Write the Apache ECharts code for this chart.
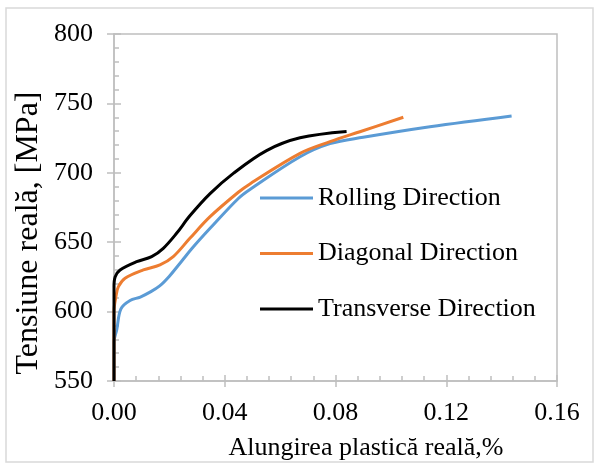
<!DOCTYPE html>
<html>
<head>
<meta charset="utf-8">
<script src="https://cdn.jsdelivr.net/npm/echarts@6/dist/echarts.min.js"></script>
<style>
html,body{margin:0;padding:0;background:#fff;}
#chart{width:596px;height:468px;}
</style>
</head>
<body>
<div id="chart"></div>
<script>
const seriesNames = ['Rolling Direction', 'Diagonal Direction', 'Transverse Direction'];
const xTicks = [0, 0.04, 0.08, 0.12, 0.16];
const yTicks = [550, 600, 650, 700, 750, 800];

const rolling = [[0,550],[0,578],[0.001,587],[0.0025,602],[0.0058,608],[0.0095,610.5],[0.013,614],[0.0165,618.5],[0.02,625.5],[0.0245,636.5],[0.0286,646.5],[0.0347,660],[0.0449,681.5],[0.0491,688],[0.0672,711.6],[0.078,721],[0.09,725.6],[0.1141,733.2],[0.1436,741]];
const diagonal = [[0,550],[0,600],[0.0008,612],[0.0016,618],[0.004,624],[0.0106,630],[0.0166,633.6],[0.0214,639.6],[0.0274,652.8],[0.0347,668.4],[0.0449,686],[0.0491,692],[0.0672,714],[0.078,722.4],[0.0888,729.6],[0.1045,740]];
const transverse = [[0,550],[0,618],[0.0004,625],[0.0022,630],[0.0082,636],[0.0136,639.6],[0.0178,645.6],[0.0226,656.4],[0.0274,669],[0.0347,685],[0.0431,699.6],[0.0551,716],[0.0672,725.2],[0.084,729.8]];

const colors = ['#5b9bd5', '#ed7d31', '#000000'];
const font = 'Liberation Serif';
const axisGrey = '#bfbfbf';

const chart = echarts.init(document.getElementById('chart'));
const mainX = {
  type: 'value', min: xTicks[0], max: xTicks[xTicks.length-1], interval: 0.04,
  axisLine: {show: true, lineStyle: {color: axisGrey, width: 1.5}},
  axisTick: {show: true, inside: true, length: 6, lineStyle: {color: axisGrey, width: 1.5}},
  minorTick: {show: true, splitNumber: 5, length: 5, lineStyle: {color: axisGrey, width: 1.5}},
  splitLine: {show: false},
  axisLabel: {fontFamily: font, fontSize: 26, color: '#000', margin: 19, formatter: v => v.toFixed(2)}
};
const outerX = {
  type: 'value', min: xTicks[0], max: xTicks[xTicks.length-1], interval: 0.04, position: 'bottom',
  axisLine: {show: false}, axisLabel: {show: false}, splitLine: {show: false},
  axisTick: {show: true, inside: false, length: 6, lineStyle: {color: axisGrey, width: 1.5}}
};
const mainY = {
  type: 'value', min: yTicks[0], max: yTicks[yTicks.length-1], interval: 50,
  axisLine: {show: true, lineStyle: {color: axisGrey, width: 1.5}},
  axisTick: {show: true, inside: true, length: 7, lineStyle: {color: axisGrey, width: 1.5}},
  minorTick: {show: true, splitNumber: 5, length: 5, lineStyle: {color: axisGrey, width: 1.5}},
  splitLine: {show: false},
  axisLabel: {fontFamily: font, fontSize: 26, color: '#000', margin: 21}
};
const outerY = {
  type: 'value', min: yTicks[0], max: yTicks[yTicks.length-1], interval: 50, position: 'left',
  axisLine: {show: false}, axisLabel: {show: false}, splitLine: {show: false},
  axisTick: {show: true, inside: false, length: 7, lineStyle: {color: axisGrey, width: 1.5}}
};

const datasets = [rolling, diagonal, transverse];
chart.setOption({
  animation: false,
  backgroundColor: '#fff',
  grid: {left: 114, right: 39, top: 34, bottom: 87, show: true, borderColor: axisGrey, borderWidth: 1.5, backgroundColor: 'transparent'},
  xAxis: [mainX, outerX],
  yAxis: [mainY, outerY],
  legend: {
    show: true, orient: 'vertical', left: 260, top: 185, padding: 0,
    itemWidth: 53, itemHeight: 3, itemGap: 29.5, icon: 'rect',
    textStyle: {fontFamily: font, fontSize: 26, color: '#000', lineHeight: 26},
    data: seriesNames
  },
  series: datasets.map((d, i) => ({
    name: seriesNames[i], type: 'line', data: d, xAxisIndex: 0, yAxisIndex: 0,
    showSymbol: false, smooth: 0.35,
    lineStyle: {color: colors[i], width: 3},
    itemStyle: {color: colors[i]},
    z: 2 + i
  })),
  graphic: [
    {type: 'rect', shape: {x: 6, y: 8, width: 587, height: 454}, style: {fill: 'none', stroke: '#d9d9d9', lineWidth: 1.5}, silent: true},
    {type: 'text', x: 29, y: 233, rotation: Math.PI/2, style: {text: 'Tensiune reală, [MPa]', font: '32px "Liberation Serif"', fill: '#000', textAlign: 'center', textVerticalAlign: 'middle'}},
    {type: 'text', x: 366, y: 448, style: {text: 'Alungirea plastică reală,%', font: '26px "Liberation Serif"', fill: '#000', textAlign: 'center', textVerticalAlign: 'middle'}}
  ]
});
</script>
</body>
</html>
